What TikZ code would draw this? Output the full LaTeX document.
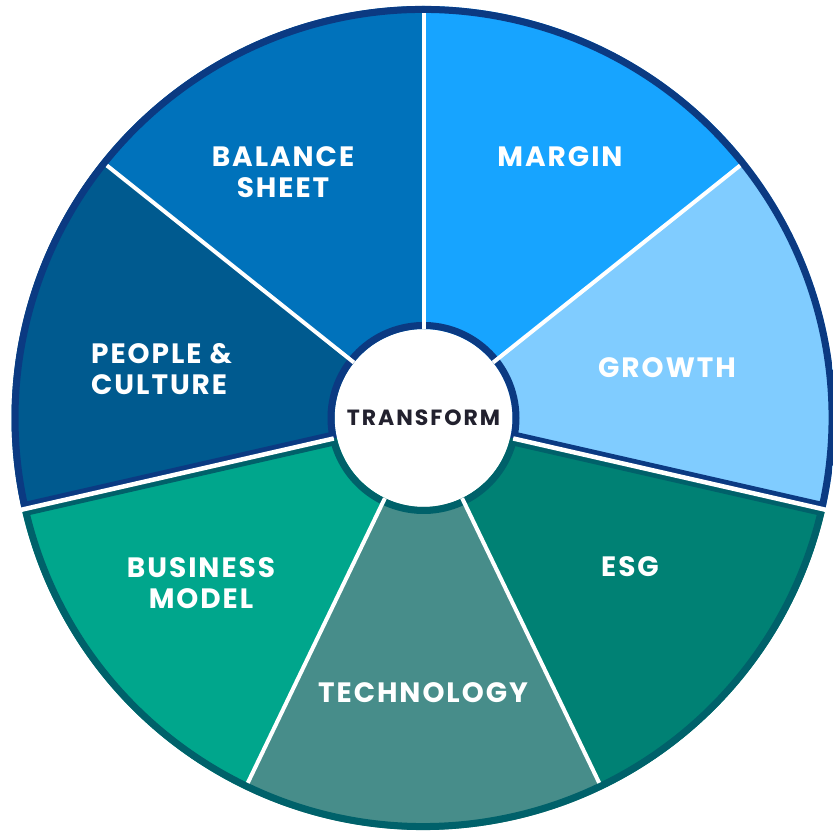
\documentclass[tikz,border=0pt]{standalone}
\usepackage{fontspec}
\setmainfont{Poppins}
\definecolor{cBal}{HTML}{0072BB}
\definecolor{cMar}{HTML}{17A4FF}
\definecolor{cGro}{HTML}{80CCFF}
\definecolor{cPeo}{HTML}{005A8F}
\definecolor{cNavy}{HTML}{0B3A82}
\definecolor{cBus}{HTML}{00A68C}
\definecolor{cTec}{HTML}{478D8A}
\definecolor{cEsg}{HTML}{008174}
\definecolor{cTeal}{HTML}{00616A}
\definecolor{cDark}{HTML}{22212E}
\def\Ro{412}
\def\Ri{89}
\newcommand{\sectorpath}[2]{(#1:\Ri) -- (#1:\Ro) arc[start angle=#1,end angle=#2,radius=\Ro] -- (#2:\Ri) arc[start angle=#2,end angle=#1,radius=\Ri] -- cycle}
\tikzset{
  lbl/.style={text=white, font=\bfseries\fontsize{28}{31}\selectfont\addfontfeature{LetterSpace=7}, align=center, inner sep=0pt},
  seprule/.style={white, line width=4pt},
  gaprule/.style={white, line width=4.5pt},
}
\begin{document}
\begin{tikzpicture}[x=1pt,y=1pt]
\useasboundingbox (0,0) rectangle (833,832);
\begin{scope}[shift={(423.5,414)}]
  % blue group sectors
  \fill[cGro] \sectorpath{-12.857}{38.571};
  \fill[cMar] \sectorpath{38.571}{90};
  \fill[cBal] \sectorpath{90}{141.429};
  \fill[cPeo] \sectorpath{141.429}{192.857};
  % green group sectors
  \fill[cBus] \sectorpath{192.857}{244.286};
  \fill[cTec] \sectorpath{244.286}{295.714};
  \fill[cEsg] \sectorpath{295.714}{347.143};
  % borders
  \begin{scope}
    \clip \sectorpath{-12.857}{192.857};
    \draw[cNavy, line width=14pt] \sectorpath{-12.857}{192.857};
  \end{scope}
  \begin{scope}
    \clip \sectorpath{192.857}{347.143};
    \draw[cTeal, line width=14pt] \sectorpath{192.857}{347.143};
  \end{scope}
  % inner separators
  \foreach \a in {38.571,90,141.429,244.286,295.714}
    \draw[seprule] (\a:\Ri) -- (\a:405);
  % gaps between groups
  \foreach \a in {-12.857,192.857}
    \draw[gaprule] (\a:92) -- (\a:425);
  % hub
  \node[circle, fill=white, minimum size=164pt, inner sep=0pt,
        text=cDark, font=\bfseries\fontsize{22}{24}\selectfont\addfontfeature{LetterSpace=9}] (hub) at (0,0) {TRANSFORM};
\end{scope}
% labels
\node[lbl] (bal) at (283,660) {BALANCE\\SHEET};
\node[lbl] (mar) at (560,675) {MARGIN};
\node[lbl] (gro) at (667,464) {GROWTH};
\node[lbl, anchor=west, align=left] (peo) at (91,463) {PEOPLE \&\\CULTURE};
\node[lbl] (bus) at (201,249) {BUSINESS\\MODEL};
\node[lbl] (esg) at (630,265) {ESG};
\node[lbl] (tec) at (423,139) {TECHNOLOGY};
\end{tikzpicture}
\end{document}
